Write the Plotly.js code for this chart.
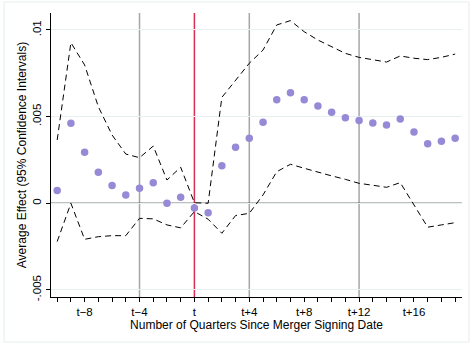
<!DOCTYPE html>
<html>
<head>
<meta charset="utf-8">
<script src="https://cdn.plot.ly/plotly-3.0.1.min.js"></script>
<style>html,body{margin:0;padding:0;background:#fff;}#chart{width:471px;height:345px;}</style>
</head>
<body>
<div id="chart"></div>
<script>
const quarters = [-10,-9,-8,-7,-6,-5,-4,-3,-2,-1,0,1,2,3,4,5,6,7,8,9,10,11,12,13,14,15,16,17,18,19];
const estimate = [0.00073,0.00462,0.00294,0.00179,0.00102,0.00048,0.00087,0.00118,0.0000,0.00035,-0.00028,-0.00055,0.00217,0.00323,0.00375,0.00467,0.00598,0.00638,0.00598,0.00561,0.00525,0.00494,0.00477,0.00463,0.00452,0.00486,0.00411,0.00344,0.00358,0.00375];
const upperCI = [0.00365,0.00927,0.00798,0.00557,0.00394,0.00284,0.00263,0.00330,0.00134,0.00208,0.00003,0.0000,0.00611,0.00710,0.00808,0.00884,0.01029,0.01054,0.00990,0.00942,0.00903,0.00865,0.00842,0.00827,0.00815,0.00850,0.00837,0.00829,0.00842,0.00861];
const lowerCI = [-0.00221,0.0000,-0.00208,-0.00193,-0.00187,-0.00187,-0.00087,-0.00090,-0.00125,-0.00142,-0.00048,-0.00092,-0.00173,-0.00071,-0.00058,0.00048,0.00182,0.00225,0.00202,0.00178,0.00158,0.00138,0.00115,0.00104,0.00092,0.00119,-0.00010,-0.00138,-0.00125,-0.00112];
const xTickLabels = quarters.map(q => (q % 4 === 0) ? (q === 0 ? 't' : (q < 0 ? 't\u2212' + (-q) : 't+' + q)) : '');
const yTickVals = [-0.005, 0, 0.005, 0.01];
const yTickText = ['-.005', '0', '.005', '.01'];
const grayLines = [-4, 4, 12];
const redLine = 0;

const traces = [
  {x: quarters, y: upperCI, mode: 'lines', line: {color: '#000', width: 1, dash: '6px,4px'}, hoverinfo: 'skip'},
  {x: quarters, y: lowerCI, mode: 'lines', line: {color: '#000', width: 1, dash: '6px,4px'}, hoverinfo: 'skip'},
  {x: quarters, y: estimate, mode: 'markers', marker: {color: '#968ad6', size: 7.5}}
];

const shapes = grayLines.map(q => ({type: 'line', xref: 'x', yref: 'paper', x0: q, x1: q, y0: 0, y1: 1, line: {color: '#a6a6a6', width: 1.5}, layer: 'below'}));
shapes.push({type: 'line', xref: 'x', yref: 'paper', x0: redLine, x1: redLine, y0: 0, y1: 1, line: {color: '#dc2d55', width: 1.5}, layer: 'below'});
shapes.push({type: 'line', xref: 'paper', yref: 'y', x0: 0, x1: 1, y0: 0, y1: 0, line: {color: '#000', width: 1.2}, layer: 'below'});
shapes.push({type: 'rect', xref: 'paper', yref: 'paper', x0: -0.114, x1: 1.017, y0: -0.1585, y1: 1.0387, line: {color: '#eef3f4', width: 1.5}, fillcolor: 'rgba(0,0,0,0)', layer: 'below'});

const layout = {
  width: 471, height: 345,
  margin: {l: 51, r: 9, t: 13, b: 48},
  paper_bgcolor: '#fff', plot_bgcolor: '#fff',
  showlegend: false,
  font: {family: '"Liberation Sans", Arial, sans-serif', color: '#000', size: 11},
  xaxis: {
    range: [-10.45, 19.5],
    tickvals: quarters, ticktext: xTickLabels,
    ticks: 'outside', ticklen: 4, tickcolor: '#000', tickwidth: 1,
    showline: true, linecolor: '#000', linewidth: 1,
    showgrid: false, zeroline: false,
    tickfont: {size: 11.5},
    title: {text: 'Number of Quarters Since Merger Signing Date', font: {size: 12}, standoff: 2}
  },
  yaxis: {
    range: [-0.00541, 0.01098],
    tickvals: yTickVals, ticktext: yTickText, tickangle: -90,
    ticks: 'outside', ticklen: 4, tickcolor: '#000', tickwidth: 1,
    showline: true, linecolor: '#000', linewidth: 1,
    showgrid: true, gridcolor: '#e8eff1', gridwidth: 1, zeroline: false,
    tickfont: {size: 11.5},
    title: {text: 'Average Effect (95% Confidence Intervals)', font: {size: 12}, standoff: 2}
  },
  shapes: shapes
};

Plotly.newPlot('chart', traces, layout, {displayModeBar: false, staticPlot: true});
</script>
</body>
</html>
